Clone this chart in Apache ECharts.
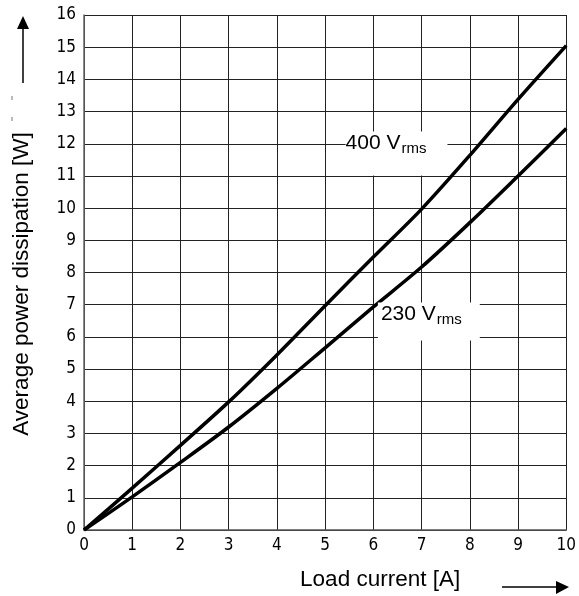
<!DOCTYPE html>
<html>
<head>
<meta charset="utf-8">
<script src="https://cdn.jsdelivr.net/npm/echarts/dist/echarts.min.js"></script>
<style>
  html, body { margin: 0; padding: 0; background: #fff; }
  #chart { width: 579px; height: 596px; }
</style>
</head>
<body>
<div id="chart"></div>
<script>
// load current [A]
const current = [0, 1, 2, 3, 4, 5, 6, 7, 8, 9, 10];
// average power dissipation [W]
const power400 = [0, 1.3, 2.63, 3.98, 5.44, 6.97, 8.48, 9.97, 11.64, 13.38, 15.05];
const power230 = [0, 1.03, 2.1, 3.2, 4.4, 5.66, 6.93, 8.17, 9.55, 11.0, 12.47];
// label anchors [x, y] in data units
const label400At = [6.48, 11.70];
const label230At = [7.15, 6.48];

const tickFont = "'DejaVu Sans Condensed', 'Liberation Sans Narrow', sans-serif";
const textFont = "'Liberation Sans', Arial, sans-serif";

function pairs(ys) {
  return current.map((x, i) => [x, ys[i]]);
}

function curveLabel(name, at, pad) {
  return {
    symbol: 'circle',
    symbolSize: 1,
    silent: true,
    itemStyle: { color: 'rgba(0,0,0,0)' },
    data: [{
      coord: at,
      label: {
        show: true,
        position: 'inside',
        formatter: '{a|' + name + ' V}{b|rms}',
        backgroundColor: '#fff',
        padding: pad,
        rich: {
          a: { fontSize: 21, fontFamily: textFont, color: '#000', lineHeight: 24 },
          b: { fontSize: 15, fontFamily: textFont, color: '#000', padding: [11, 0, 0, 1], lineHeight: 16 }
        }
      }
    }]
  };
}

const chart = echarts.init(document.getElementById('chart'));

const option = {
  animation: false,
  backgroundColor: '#fff',
  grid: { left: 84, right: 11, top: 15, bottom: 66 },
  xAxis: {
    type: 'value',
    min: 0,
    max: 10,
    interval: 1,
    name: 'Load current [A]',
    nameLocation: 'middle',
    nameGap: 38,
    nameTextStyle: { fontSize: 22.5, fontFamily: textFont, color: '#000', padding: [0, 0, 0, 110] },
    axisLine: { lineStyle: { color: '#555', width: 1.5 } },
    axisTick: { show: false },
    axisLabel: { fontSize: 17, fontFamily: tickFont, color: '#000', margin: 7 },
    splitLine: { lineStyle: { color: '#222', width: 1 } }
  },
  yAxis: {
    type: 'value',
    min: 0,
    max: 16,
    interval: 1,
    name: 'Average power dissipation [W]',
    nameLocation: 'middle',
    nameGap: 51,
    nameTextStyle: { fontSize: 22.5, fontFamily: textFont, color: '#000', padding: [0, 23, 0, 0] },
    axisLine: { show: true, lineStyle: { color: '#666', width: 1.5 } },
    axisTick: { show: false },
    axisLabel: { fontSize: 17, fontFamily: tickFont, color: '#000', margin: 8 },
    splitLine: { lineStyle: { color: '#222', width: 1 } }
  },
  graphic: [
    // arrow beside the y axis name
    { type: 'line', shape: { x1: 23, y1: 83, x2: 23, y2: 28 }, style: { stroke: '#000', lineWidth: 1.5 } },
    { type: 'polygon', shape: { points: [[17, 29], [29, 29], [23, 16]] }, style: { fill: '#000' } },
    { type: 'line', shape: { x1: 12, y1: 96, x2: 12, y2: 100 }, style: { stroke: '#777', lineWidth: 1 } },
    { type: 'line', shape: { x1: 12, y1: 117, x2: 12, y2: 121 }, style: { stroke: '#777', lineWidth: 1 } },
    // arrow beside the x axis name
    { type: 'line', shape: { x1: 502, y1: 587, x2: 558, y2: 587 }, style: { stroke: '#000', lineWidth: 1.5 } },
    { type: 'polygon', shape: { points: [[556, 581], [556, 594], [569, 587]] }, style: { fill: '#000' } }
  ],
  series: [
    {
      name: '400 Vrms',
      type: 'line',
      smooth: 0.3,
      showSymbol: false,
      lineStyle: { color: '#000', width: 3.5 },
      data: pairs(power400),
      markPoint: curveLabel('400', label400At, [0, 21, 20, 0]),
      z: 3
    },
    {
      name: '230 Vrms',
      type: 'line',
      smooth: 0.3,
      showSymbol: false,
      lineStyle: { color: '#000', width: 3.5 },
      data: pairs(power230),
      markPoint: curveLabel('230', label230At, [0, 18, 14, 3]),
      z: 3
    }
  ]
};

chart.setOption(option);
</script>
</body>
</html>
